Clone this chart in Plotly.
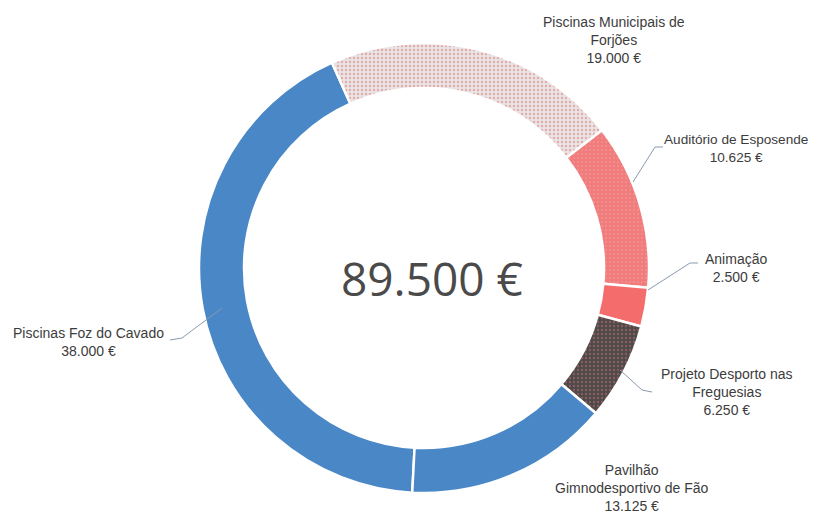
import plotly.graph_objects as go

labels = ["Piscinas Foz do Cavado", "Piscinas Municipais de Forjões", "Auditório de Esposende",
          "Animação", "Projeto Desporto nas Freguesias", "Pavilhão Gimnodesportivo de Fão"]
values = [38000, 19000, 10625, 2500, 6250, 13125]
label_texts = ["Piscinas Foz do Cavado<br>38.000 €",
               "Piscinas Municipais de<br>Forjões<br>19.000 €",
               "Auditório de Esposende<br>10.625 €",
               "Animação<br>2.500 €",
               "Projeto Desporto nas<br>Freguesias<br>6.250 €",
               "Pavilhão<br>Gimnodesportivo de Fão<br>13.125 €"]
total_text = "89.500 €"

colors = ["#4a87c7", "#e6e6e6", "#f27a7a", "#f46c6c", "#4a4a4a", "#4a87c7"]
pat_shapes = ["", ".", ".", "", ".", ""]
pat_fg = ["#4a87c7", "#f06a6a", "#e8a0a0", "#f46c6c", "#d86a6a", "#4a87c7"]

W, H = 817, 517
OFF = 8  # page body margin
cx, cy, R = 424 - OFF, 268 - OFF, 225

fig = go.Figure(go.Pie(
    labels=labels, values=values, sort=False, direction="clockwise", rotation=183,
    hole=0.80, textinfo="none", showlegend=False,
    marker=dict(colors=colors, line=dict(color="white", width=2.5),
                pattern=dict(shape=pat_shapes, fgcolor=pat_fg, size=4, solidity=0.3,
                             fillmode="overlay")),
    domain=dict(x=[(cx - R) / W, (cx + R) / W], y=[1 - (cy + R) / H, 1 - (cy - R) / H]),
))

def px(x):
    return (x - OFF) / W

def py(y):
    return 1 - (y - OFF) / H

anns = [
    (label_texts[0], 88, 342, 14),
    (label_texts[1], 614, 40, 14),
    (label_texts[2], 736, 148, 13.6),
    (label_texts[3], 736, 268, 14),
    (label_texts[4], 727, 392, 14),
    (label_texts[5], 632, 488, 14),
]
for t, x, y, s in anns:
    fig.add_annotation(x=px(x), y=py(y), xref="paper", yref="paper", text=t, showarrow=False,
                       xanchor="center", yanchor="middle",
                       font=dict(family="Liberation Sans, Arial", size=s, color="#3c3c3c"))

fig.add_annotation(x=px(432), y=py(278), xref="paper", yref="paper", text=total_text,
                   showarrow=False, xanchor="center", yanchor="middle",
                   font=dict(family="Open Sans", size=46, color="#4a4a4a"))

leaders = [
    [(170, 340), (182, 338), (222, 308)],
    [(663, 147), (655, 147), (633, 182)],
    [(698, 263), (690, 263), (648, 290)],
    [(652, 392), (642, 390), (620, 370)],
]
for pts in leaders:
    path = "M " + " L ".join(f"{px(x)},{py(y)}" for x, y in pts)
    fig.add_shape(type="path", path=path, xref="paper", yref="paper",
                  line=dict(color="#8a9ab0", width=1))

fig.update_layout(width=W, height=H, margin=dict(l=0, r=0, t=0, b=0),
                  paper_bgcolor="white", plot_bgcolor="white")
fig.write_html("out.html")
